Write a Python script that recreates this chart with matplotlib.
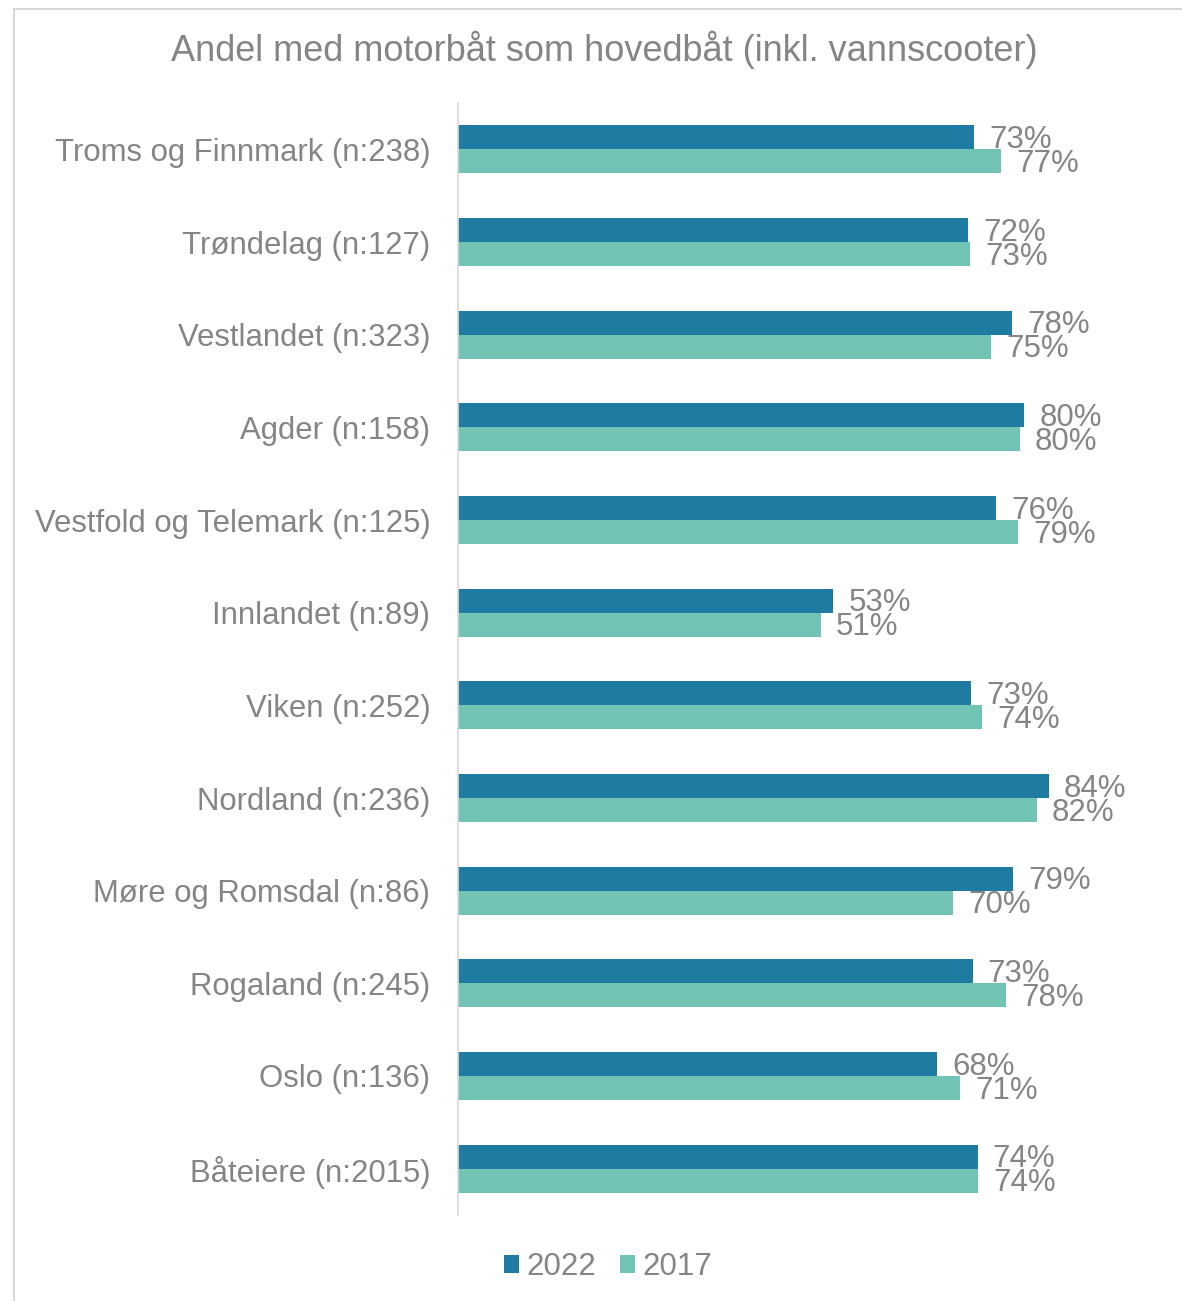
import matplotlib.pyplot as plt
from matplotlib.lines import Line2D
import numpy as np

plt.rcParams['font.family'] = ['Liberation Sans', 'DejaVu Sans']

categories = ['Troms og Finnmark (n:238)', 'Trøndelag (n:127)', 'Vestlandet (n:323)',
              'Agder (n:158)', 'Vestfold og Telemark (n:125)', 'Innlandet (n:89)',
              'Viken (n:252)', 'Nordland (n:236)', 'Møre og Romsdal (n:86)',
              'Rogaland (n:245)', 'Oslo (n:136)', 'Båteiere (n:2015)']
v2022 = [73.4, 72.6, 78.8, 80.5, 76.5, 53.4, 73.0, 84.0, 79.0, 73.2, 68.2, 73.9]
v2017 = [77.2, 72.8, 75.8, 79.9, 79.7, 51.6, 74.6, 82.3, 70.4, 77.9, 71.4, 74.0]
labels2022 = ['73%', '72%', '78%', '80%', '76%', '53%', '73%', '84%', '79%', '73%', '68%', '74%']
labels2017 = ['77%', '73%', '75%', '80%', '79%', '51%', '74%', '82%', '70%', '78%', '71%', '74%']
series = ['2022', '2017']

c2022 = '#1F7BA1'
c2017 = '#71C4B4'
grey = '#858585'

fig = plt.figure(figsize=(11.82, 13.01), dpi=100)
ax = fig.add_axes([458 / 1182, 86 / 1301, (1161 - 458) / 1182, (1215 - 103) / 1301])

y = np.arange(len(categories))
h = 0.26
b1 = ax.barh(y - h / 2, v2022, height=h, color=c2022, label=series[0])
b2 = ax.barh(y + h / 2, v2017, height=h, color=c2017, label=series[1])

for bars, labs in ((b1, labels2022), (b2, labels2017)):
    for bar, lab in zip(bars, labs):
        ax.annotate(lab, (bar.get_width(), bar.get_y() + bar.get_height() / 2),
                    xytext=(11, -2), textcoords='offset points', va='center', ha='left',
                    fontsize=22.5, color=grey)

ax.set_xlim(0, 100)
ax.set_ylim(len(categories) - 0.5, -0.5)
ax.set_yticks(y)
ax.set_yticklabels(categories, fontsize=22.4, color=grey)
ax.tick_params(axis='y', length=0, pad=20)
ax.set_xticks([])
for s in ['top', 'right', 'bottom']:
    ax.spines[s].set_visible(False)
ax.spines['left'].set_color('#D9D9D9')
ax.spines['left'].set_linewidth(1.2)

fig.text(604 / 1182, 1 - 50 / 1301, 'Andel med motorbåt som hovedbåt (inkl. vannscooter)',
         ha='center', va='center', fontsize=26, color=grey)

fig.legend(handles=[b1, b2], labels=series, loc='center', bbox_to_anchor=(608 / 1182, 1 - 1267 / 1301),
           ncol=2, frameon=False, fontsize=22.5, handlelength=0.48, handleheight=0.48,
           handletextpad=0.25, columnspacing=0.75, labelcolor=grey)

# outer border
fig.add_artist(Line2D([14 / 1182, 1], [1 - 9 / 1301, 1 - 9 / 1301], color='#D9D9D9', lw=1.5))
fig.add_artist(Line2D([14 / 1182, 14 / 1182], [0, 1 - 9 / 1301], color='#D9D9D9', lw=1.5))

fig.savefig('out.png', dpi=100)
